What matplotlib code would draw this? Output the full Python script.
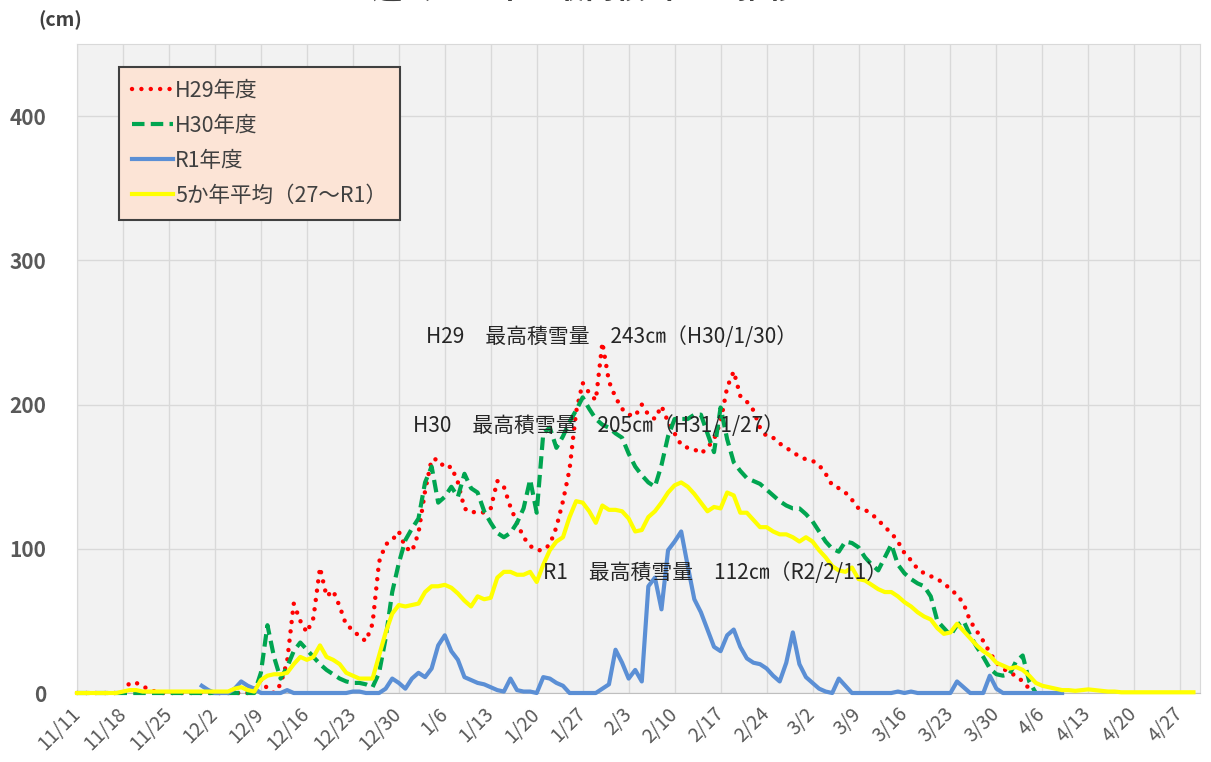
import numpy as np
import matplotlib
matplotlib.use("Agg")
import matplotlib.pyplot as plt

plt.rcParams['font.family'] = ['Noto Sans CJK JP', 'DejaVu Sans']

# x axis: one category per day from 11/11, a label every 7 days
tick_labels = ['11/11', '11/18', '11/25', '12/2', '12/9', '12/16', '12/23',
               '12/30', '1/6', '1/13', '1/20', '1/27', '2/3', '2/10', '2/17',
               '2/24', '3/2', '3/9', '3/16', '3/23', '3/30', '4/6', '4/13',
               '4/20', '4/27']

# snow depth (cm), one value per day
h29_start = 0
h29 = [
    0, 0, 0, 0, 0, 0, 0, 0, 7, 7,
    5, 2, 1, 0, 0, 0, 0, 0, 0, 0,
    0, 0, 0, 0, 0, 0, 0, 2, 9, 3,
    0, 6, 22, 62, 50, 42, 52, 87, 67, 71,
    60, 47, 44, 39, 36, 48, 91, 103, 106, 112,
    101, 98, 111, 140, 162, 162, 156, 157, 146, 128,
    125, 126, 125, 128, 147, 143, 129, 118, 108, 102,
    99, 99, 103, 115, 133, 155, 195, 215, 208, 203,
    243, 216, 205, 197, 193, 192, 200, 193, 190, 199,
    188, 180, 172, 170, 169, 166, 170, 176, 188, 212,
    223, 206, 202, 196, 184, 178, 177, 173, 170, 167,
    164, 162, 161, 158, 152, 144, 142, 139, 134, 128,
    127, 124, 120, 115, 111, 105, 97, 92, 86, 83,
    81, 79, 76, 72, 68, 62, 50, 43, 36, 28,
    21, 17, 14, 12, 8, 3, 0]

h30_start = 0
h30 = [
    0, 0, 0, 0, 0, 0, 0, 0, 0, 0,
    0, 0, 0, 0, 0, 0, 0, 0, 0, 0,
    0, 0, 0, 0, 0, 0, 0, 0, 14, 47,
    25, 10, 18, 29, 35, 30, 25, 20, 16, 13,
    10, 8, 7, 7, 6, 4, 14, 38, 70, 90,
    106, 114, 121, 146, 157, 132, 136, 143, 136, 152,
    142, 139, 126, 118, 111, 108, 111, 118, 128, 148,
    125, 180, 184, 170, 178, 188, 196, 205, 197, 190,
    186, 184, 180, 177, 166, 157, 151, 146, 143, 158,
    178, 190, 190, 190, 193, 193, 180, 167, 198, 176,
    160, 154, 149, 147, 145, 141, 137, 133, 130, 128,
    128, 124, 119, 112, 105, 100, 98, 105, 104, 101,
    94, 89, 85, 94, 103, 89, 83, 79, 76, 74,
    67, 50, 45, 40, 47, 50, 40, 32, 25, 17,
    13, 12, 13, 22, 26, 8, 0]

r1_start = 19
r1 = [
    5, 2, 0, 0, 0, 3, 8, 5, 3, 0,
    0, 0, 0, 2, 0, 0, 0, 0, 0, 0,
    0, 0, 0, 1, 1, 0, 0, 0, 3, 10,
    7, 3, 10, 14, 11, 17, 33, 40, 29, 23,
    11, 9, 7, 6, 4, 2, 1, 10, 2, 1,
    1, 0, 11, 10, 7, 5, 0, 0, 0, 0,
    0, 3, 6, 30, 21, 10, 16, 8, 74, 80,
    58, 99, 105, 112, 88, 65, 56, 44, 32, 29,
    40, 44, 32, 24, 21, 20, 17, 12, 8, 21,
    42, 20, 11, 7, 3, 1, 0, 10, 5, 0,
    0, 0, 0, 0, 0, 0, 1, 0, 1, 0,
    0, 0, 0, 0, 0, 8, 4, 0, 0, 0,
    12, 3, 0, 0, 0, 0, 0, 0, 0, 0,
    0, 0]

avg_start = 0
avg5 = [
    0, 0, 0, 0, 0, 0, 0, 1, 2, 2,
    1, 1, 1, 1, 1, 1, 1, 1, 1, 1,
    1, 1, 1, 1, 3, 4, 2, 1, 9, 12,
    13, 13, 14, 20, 25, 23, 25, 33, 25, 23,
    20, 14, 12, 10, 10, 10, 26, 42, 55, 61,
    60, 61, 62, 70, 74, 74, 75, 73, 69, 64,
    60, 67, 65, 66, 80, 84, 84, 82, 82, 84,
    77, 89, 99, 105, 108, 122, 133, 132, 126, 118,
    130, 127, 127, 126, 121, 112, 113, 122, 126, 132,
    139, 144, 146, 143, 138, 132, 126, 129, 128, 139,
    137, 125, 125, 120, 115, 115, 112, 110, 110, 108,
    105, 108, 105, 99, 94, 88, 85, 84, 87, 79,
    78, 75, 72, 70, 70, 67, 63, 60, 56, 53,
    51, 45, 41, 42, 48, 43, 38, 33, 29, 26,
    21, 19, 17, 18, 16, 12, 7, 5, 4, 3,
    2, 2, 1.5, 2, 2.5, 2, 1.5, 1, 1, 0.5,
    0.5, 0.5, 0.5, 0.5, 0.5, 0.5, 0.5, 0.5, 0.5, 0.5, 0.5]

labels = ['H29年度', 'H30年度', 'R1年度', '5か年平均（27～R1）']
notes = [('H29　最高積雪量　243㎝（H30/1/30）', 53.2, 247),
         ('H30　最高積雪量　205㎝（H31/1/27）', 51.1, 185),
         ('R1　最高積雪量　112㎝（R2/2/11）', 70.9, 83)]

W, H = 1211, 762
fig = plt.figure(figsize=(W / 100, H / 100), dpi=100)
ax = fig.add_axes([77 / W, (H - 693) / H, 1123 / W, 649 / H])
ax.set_facecolor('#f2f2f2')

red = ax.plot(h29_start + np.arange(len(h29)), h29, color='#ff0000', lw=3.2,
              linestyle=(0, (0.01, 2.1)), dash_capstyle='round', clip_on=False,
              zorder=3)[0]
green = ax.plot(h30_start + np.arange(len(h30)), h30, color='#00a550', lw=3,
                linestyle=(0, (3.0, 1.5)), clip_on=False, zorder=4)[0]
blue = ax.plot(r1_start + np.arange(len(r1)), r1, color='#5b8fd5', lw=3,
               solid_joinstyle='round', clip_on=False, zorder=5)[0]
yellow = ax.plot(avg_start + np.arange(len(avg5)), avg5, color='#ffff00', lw=3,
                 solid_joinstyle='round', clip_on=False, zorder=6)[0]

ax.set_xlim(0, 171)
ax.set_ylim(0, 450)
ax.set_xticks(np.arange(len(tick_labels)) * 7)
ax.set_xticklabels(tick_labels, rotation=45, ha='right', va='center',
                   rotation_mode='anchor')
ax.set_yticks([0, 100, 200, 300, 400])
ax.tick_params(axis='x', length=0, pad=13, labelsize=14, labelcolor='#595959')
ax.tick_params(axis='y', length=0, pad=22, labelsize=15, labelcolor='#595959')
for t in ax.get_yticklabels():
    t.set_fontweight('bold')
ax.grid(True, color='#d9d9d9', lw=1)
ax.set_axisbelow(True)
for s in ax.spines.values():
    s.set_color('#d9d9d9')
ax.spines['bottom'].set_color('#bfbfbf')

leg = ax.legend([red, green, blue, yellow], labels, loc='upper left',
                bbox_to_anchor=((119 - 77) / 1123, (693 - 67) / 649),
                borderaxespad=0, fontsize=15.5, handlelength=1.9,
                handletextpad=0.1, labelspacing=0.6, borderpad=0.6,
                fancybox=False, framealpha=1, facecolor='#fce4d6',
                edgecolor='#404040', labelcolor='#404040')
leg.get_frame().set_linewidth(1.5)
leg.set_zorder(10)

for txt, x, y in notes:
    ax.text(x, y, txt, fontsize=15, color='#262626', ha='left', va='center',
            zorder=8)

fig.text(38 / W, 1 - 20 / H, '(cm)', fontsize=14, color='#404040',
         fontweight='bold', ha='left', va='center')
# chart title, mostly cut off by the top edge as in the source image
fig.text(585 / W, 1 + 11 / H, '過去３か年の最高積雪量の推移', fontsize=22,
         color='#404040', fontweight='bold', ha='center', va='center')

fig.savefig('out.png', dpi=100, facecolor='white')
